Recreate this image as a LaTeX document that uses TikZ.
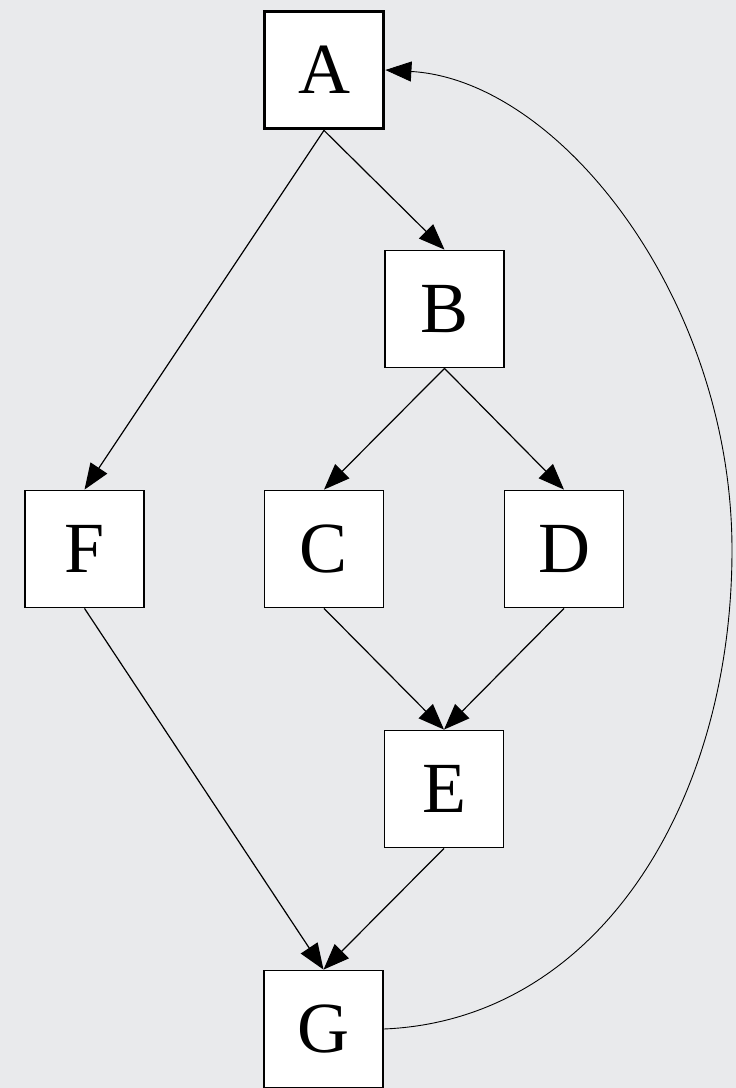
\documentclass[tikz,border=0pt]{standalone}
\usepackage{fontspec}
\setmainfont{Liberation Serif}
\usetikzlibrary{arrows.meta}
\definecolor{pagebg}{RGB}{233,234,236}
\tikzset{
  box/.style={draw=black, fill=white, line width=1.8pt, minimum width=119pt,
    minimum height=117pt, inner sep=0pt, font=\fontsize{72}{72}\selectfont},
  rootbox/.style={box, line width=3.8pt},
  link/.style={draw=black, line width=1.2pt,
    -{Triangle[length=26pt,width=20pt]}},
}
\begin{document}
\begin{tikzpicture}[x=1pt, y=-1pt]
  \fill[pagebg] (0,0) rectangle (736,1088);
  \useasboundingbox (0,0) rectangle (736,1088);

  \node[rootbox] (A) at (324,70) {\raisebox{-1pt}{A}};
  \node[box] (B) at (444.5,309) {\raisebox{-1pt}{B}};
  \node[box] (F) at (84.5,549) {\raisebox{-1pt}{F}};
  \node[box] (C) at (324,549) {\raisebox{-1pt}{C}};
  \node[box] (D) at (564,549) {\raisebox{-1pt}{D}};
  \node[box] (E) at (444,789) {\raisebox{-1pt}{E}};
  \node[box] (G) at (323.5,1029) {\raisebox{-1pt}{G}};

  \path[link] (A.south) -- (B.north);
  \path[link] (A.south) -- (F.north);
  \path[link] (B.south) -- (C.north);
  \path[link] (B.south) -- (D.north);
  \path[link] (C.south) -- (E.north);
  \path[link] (D.south) -- (E.north);
  \path[link] (F.south) -- (G.north);
  \path[link] (E.south) -- (G.north);

  % feedback edge from G back up to A
  \coordinate (bend) at (732,550);
  \path[link, line width=0.9pt] (G.east) .. controls (600,1020) and (732,800) .. (bend)
     .. controls (732,300) and (560,80) .. (A.east);
\end{tikzpicture}
\end{document}
